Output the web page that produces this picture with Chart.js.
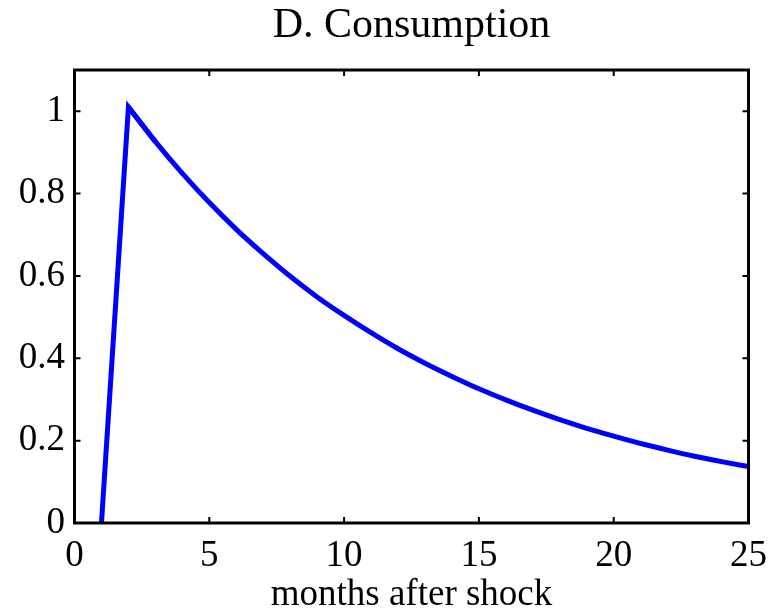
<!DOCTYPE html>
<html>
<head>
<meta charset="utf-8">
<script src="https://cdn.jsdelivr.net/npm/chart.js@4"></script>
<style>
html,body{margin:0;padding:0;background:#fff;}
canvas{display:block;}
</style>
</head>
<body>
<canvas id="c" width="778" height="611"></canvas>
<script>
const months = [1, 2, 3, 4, 5, 6, 7, 8, 9, 10, 11, 12, 13, 14, 15, 16, 17, 18, 19, 20, 21, 22, 23, 24, 25];
const consumption = [0, 1.01, 0.926, 0.849, 0.778, 0.713, 0.654, 0.599, 0.549, 0.504, 0.462, 0.423, 0.388, 0.356, 0.326, 0.299, 0.274, 0.251, 0.230, 0.211, 0.193, 0.177, 0.162, 0.149, 0.137];
const xTicks = [0, 5, 10, 15, 20, 25];
const yTicks = [0, 0.2, 0.4, 0.6, 0.8, 1];
const titleText = 'D. Consumption';
const xLabel = 'months after shock';

const FONT = '"Liberation Serif", "Times New Roman", serif';
const points = months.map((m, i) => ({x: m, y: consumption[i]}));

const frame = {
  id: 'frame',
  afterLayout(chart) {
    if (chart.titleBlock) {
      chart.titleBlock.left = chart.chartArea.left;
      chart.titleBlock.right = chart.chartArea.right;
    }
  },
  afterDraw(chart) {
    const {ctx, chartArea: a, scales: {x, y}} = chart;
    ctx.save();
    ctx.strokeStyle = '#000';
    ctx.lineWidth = 2;
    const tl = 6;
    ctx.beginPath();
    xTicks.forEach(v => {
      const px = x.getPixelForValue(v);
      ctx.moveTo(px, a.bottom); ctx.lineTo(px, a.bottom - tl);
      ctx.moveTo(px, a.top); ctx.lineTo(px, a.top + tl);
    });
    yTicks.forEach(v => {
      const py = y.getPixelForValue(v);
      ctx.moveTo(a.left, py); ctx.lineTo(a.left + tl, py);
      ctx.moveTo(a.right, py); ctx.lineTo(a.right - tl, py);
    });
    ctx.stroke();
    ctx.lineWidth = 3;
    ctx.strokeRect(a.left, a.top, a.right - a.left, a.bottom - a.top);
    ctx.restore();
  }
};

new Chart(document.getElementById('c'), {
  type: 'line',
  data: {
    datasets: [{
      data: points.slice(1),
      borderColor: '#0000ff',
      borderWidth: 5,
      pointRadius: 0,
      cubicInterpolationMode: 'monotone',
      fill: false,
      clip: false
    }, {
      data: points.slice(0, 3),
      borderColor: '#0000ff',
      borderWidth: 5,
      pointRadius: 0,
      tension: 0,
      fill: false,
      clip: false
    }]
  },
  options: {
    responsive: false,
    devicePixelRatio: 1,
    animation: false,
    layout: {padding: {left: 0, right: 29.5, top: 0, bottom: 0}},
    plugins: {
      legend: {display: false},
      tooltip: {enabled: false},
      title: {
        display: true,
        text: titleText,
        color: '#000',
        font: {family: FONT, size: 42, weight: 'normal', lineHeight: 1.2},
        padding: {top: 1, bottom: 18.6}
      }
    },
    scales: {
      x: {
        type: 'linear',
        min: 0, max: 25,
        grid: {display: false, drawTicks: false, tickLength: 0},
        border: {display: false},
        afterBuildTicks: s => { s.ticks = xTicks.map(v => ({value: v})); },
        afterFit: s => { s.height = 88; },
        ticks: {
          color: '#000',
          padding: 11,
          maxRotation: 0,
          autoSkip: false,
          font: {family: FONT, size: 37},
          callback: v => String(v)
        },
        title: {
          display: true,
          text: xLabel,
          color: '#000',
          font: {family: FONT, size: 37, lineHeight: 1.2},
          padding: {top: 0, bottom: -6}
        }
      },
      y: {
        type: 'linear',
        min: 0, max: 1.1,
        grid: {display: false, drawTicks: false, tickLength: 0},
        border: {display: false},
        afterBuildTicks: s => { s.ticks = yTicks.map(v => ({value: v})); },
        afterFit: s => { s.width = 74.5; },
        ticks: {
          color: '#000',
          padding: 9.5,
          autoSkip: false,
          font: {family: FONT, size: 37},
          callback: v => String(+v.toFixed(1))
        }
      }
    }
  },
  plugins: [frame]
});
</script>
</body>
</html>
